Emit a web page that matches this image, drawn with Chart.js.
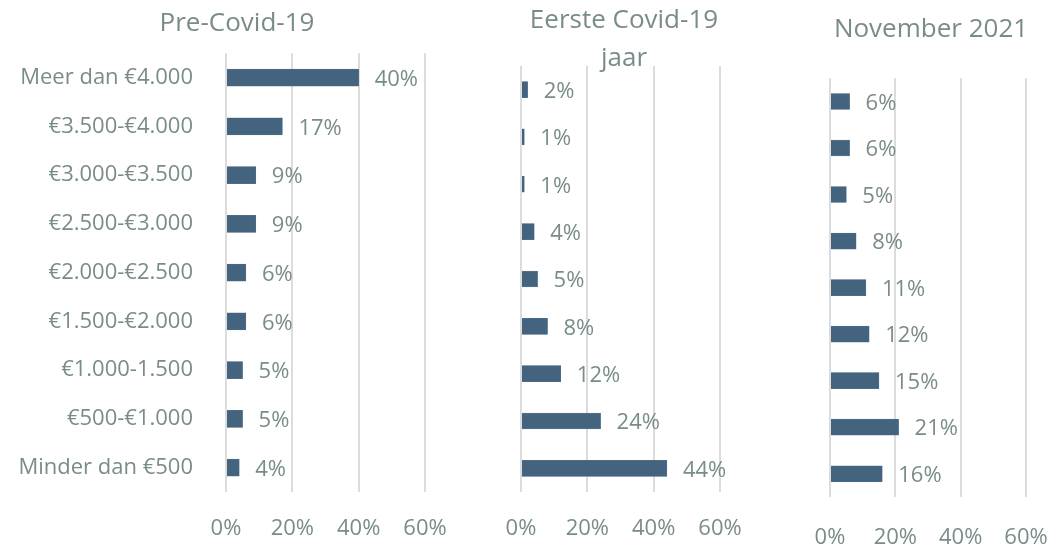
<!DOCTYPE html>
<html>
<head>
<meta charset="utf-8">
<script src="https://cdn.jsdelivr.net/npm/chart.js@4.4.0/dist/chart.umd.min.js"></script>
<style>
  html, body { margin: 0; padding: 0; background: #fff; }
  body { width: 1053px; height: 545px; position: relative; overflow: hidden; }
  .panel { position: absolute; top: 0; height: 545px; }
</style>
</head>
<body>
<div class="panel" style="left:0;width:474px"><canvas id="pre" width="474" height="545"></canvas></div>
<div class="panel" style="left:474px;width:300px"><canvas id="eerste" width="300" height="545"></canvas></div>
<div class="panel" style="left:809px;width:244px"><canvas id="nov" width="244" height="545"></canvas></div>
<script>
// categories, top to bottom
const categories = [
  'Meer dan €4.000', '€3.500-€4.000', '€3.000-€3.500', '€2.500-€3.000',
  '€2.000-€2.500', '€1.500-€2.000', '€1.000-1.500', '€500-€1.000', 'Minder dan €500'
];
const preCovid = [40, 17, 9, 9, 6, 6, 5, 5, 4];
const eersteJaar = [2, 1, 1, 4, 5, 8, 12, 24, 44];
const november2021 = [6, 6, 5, 8, 11, 12, 15, 21, 16];
const xTicks = [0, 20, 40, 60];

const TEXT = '#7a8c8a';
const BAR = '#44637e';
const GRID = '#dcdcdc';
const FONT = "'Open Sans', 'Noto Sans', sans-serif";

// draws "40%" etc. just past the end of each bar
const valueLabels = {
  id: 'valueLabels',
  afterDatasetsDraw(chart) {
    const ctx = chart.ctx;
    const meta = chart.getDatasetMeta(0);
    const vals = chart.data.datasets[0].data;
    ctx.save();
    ctx.font = `22px ${FONT}`;
    ctx.fillStyle = TEXT;
    ctx.textAlign = 'left';
    ctx.textBaseline = 'middle';
    meta.data.forEach((bar, i) => {
      ctx.fillText(Math.round(vals[i]) + '%', bar.x + 16, bar.y + 2);
    });
    ctx.restore();
  }
};

function makeChart(id, values, cfg) {
  return new Chart(document.getElementById(id), {
    type: 'bar',
    data: {
      labels: categories,
      datasets: [{ data: values, backgroundColor: BAR, borderColor: '#5a7891', borderWidth: 0.5, barThickness: cfg.barThickness }]
    },
    options: {
      indexAxis: 'y',
      responsive: false,
      animation: false,
      plugins: {
        legend: { display: false },
        tooltip: { enabled: false },
        title: {
          display: true,
          text: cfg.title,
          color: TEXT,
          font: { family: FONT, size: 26, weight: 'normal', lineHeight: cfg.titleLH },
          padding: cfg.titlePad
        }
      },
      scales: {
        x: {
          min: 0, max: 60,
          afterBuildTicks: axis => { axis.ticks = xTicks.map(v => ({ value: v })); },
          // fixed height; right padding keeps the title centred on the whole panel
          afterFit: axis => { axis.height = cfg.xHeight; axis.paddingLeft = 0; axis.paddingRight = cfg.rightPad; },
          border: { display: false },
          grid: { color: GRID, lineWidth: 2, drawTicks: false },
          ticks: { color: TEXT, padding: cfg.xPad, font: { family: FONT, size: 22 }, callback: v => v + '%', maxRotation: 0 }
        },
        y: {
          afterFit: axis => { axis.width = cfg.yWidth; },
          border: { display: false },
          grid: { display: false, drawTicks: false },
          ticks: { display: cfg.showY, color: TEXT, padding: 33, font: { family: FONT, size: 22 } }
        }
      }
    },
    plugins: [valueLabels]
  });
}

makeChart('pre', preCovid, {
  title: 'Pre-Covid-19', titleLH: 1.2, titlePad: { top: 8, bottom: 14 },
  yWidth: 226, showY: true, rightPad: 49, xHeight: 53, xPad: 24, barThickness: 17
});
makeChart('eerste', eersteJaar, {
  title: ['Eerste Covid-19', 'jaar'], titleLH: 1.46, titlePad: { top: 2, bottom: -12 },
  yWidth: 47, showY: false, rightPad: 54, xHeight: 53, xPad: 24, barThickness: 16
});
makeChart('nov', november2021, {
  title: 'November 2021', titleLH: 1.2, titlePad: { top: 14, bottom: 33 },
  yWidth: 21, showY: false, rightPad: 27, xHeight: 48, xPad: 28, barThickness: 16
});
</script>
</body>
</html>
